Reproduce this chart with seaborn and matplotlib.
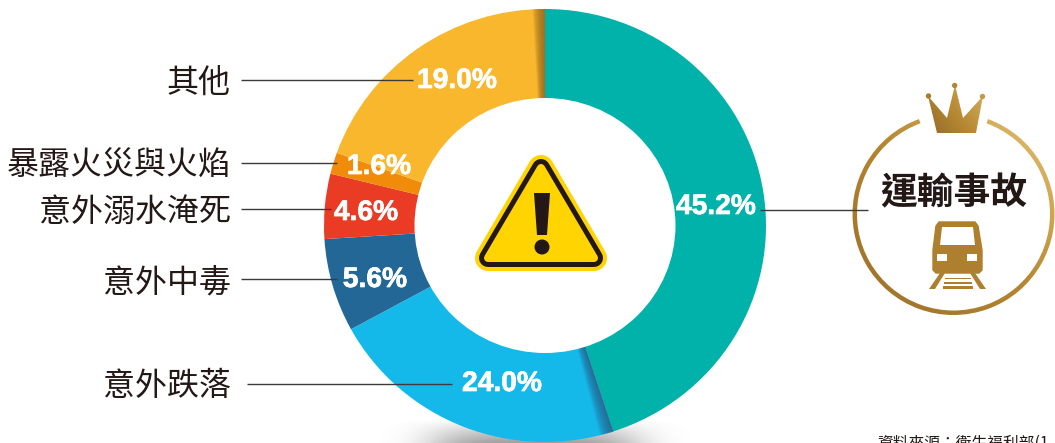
import numpy as np
import matplotlib
matplotlib.use("Agg")
import matplotlib.pyplot as plt
import matplotlib.patheffects as pe
import seaborn as sns
from matplotlib.patches import Wedge, Polygon, Circle, Rectangle, Ellipse
from matplotlib.colors import LinearSegmentedColormap

categories = ["運輸事故", "意外跌落", "意外中毒", "意外溺水淹死", "暴露火災與火焰", "其他"]
value_labels = ["45.2%", "24.0%", "5.6%", "4.6%", "1.6%", "19.0%"]
# slice sizes as they are drawn in the picture (they differ a little from the printed numbers)
drawn_shares = [45.0, 22.05, 6.95, 4.85, 1.6, 19.55]
slice_colors = ["#00B2A9", "#14B9EA", "#226795", "#EA3C24", "#F08C0A", "#F9B72E"]
source_text = "資料來源：衛生福利部(1"

sns.set_theme(style="white")
CJK = ["Noto Sans CJK TC", "DejaVu Sans"]
plt.rcParams["font.family"] = CJK

W, H = 1055, 443
fig = plt.figure(figsize=(W / 100, H / 100), dpi=100, facecolor="white")
ax = fig.add_axes([0, 0, 1, 1], zorder=1)


def Y(py):
    return H - py


def P(pts):
    return [(x, Y(y)) for x, y in pts]


# soft shadow under the ring
xs = np.linspace(360, 720, 360)
ys = np.linspace(420, 443, 40)
gx, gy = np.meshgrid(xs, ys)
alpha = 0.62 * np.exp(-(np.abs(gx - 535) / 105) ** 4) * np.clip((gy - 420) / 23, 0, 1) ** 0.8
shadow = np.zeros(alpha.shape + (4,))
shadow[..., :3] = 0.40
shadow[..., 3] = alpha
ax.imshow(shadow, extent=(360, 720, Y(443), Y(420)), origin="upper", zorder=0, aspect="auto")

# the doughnut: its own axes, slightly squashed as in the picture
L, T, RGT, B = 324, 9, 766, 442
ax_pie = fig.add_axes([L / W, 1 - B / H, (RGT - L) / W, (B - T) / H], zorder=2)
ax_pie.patch.set_alpha(0)
ax_pie.pie(drawn_shares, colors=slice_colors, startangle=90, counterclock=False,
           radius=1, frame=False, wedgeprops=dict(linewidth=0, zorder=2))

cum = np.cumsum(drawn_shares)
seam_blue = 90 - cum[0] * 3.6
for i in range(14):
    ax_pie.add_patch(Wedge((0, 0), 1, seam_blue - 3.6 * (i + 1) / 14, seam_blue,
                           fc="#2A5F88", ec="none", alpha=0.10, zorder=3))
for i in range(14):
    ax_pie.add_patch(Wedge((0, 0), 1, 90, 90 + 3.2 * (i + 1) / 14,
                           fc="#94681F", ec="none", alpha=0.12, zorder=3))
# hole
ax_pie.add_patch(Ellipse((0, 0), 2 * 130.5 / 221, 2 * 127.5 / 216.5, fc="white", ec="none", zorder=4))
ax_pie.set_aspect("auto")
ax_pie.set_xlim(-1, 1)
ax_pie.set_ylim(-1, 1)
ax_pie.axis("off")

# overlay in picture pixels
ov = fig.add_axes([0, 0, 1, 1], zorder=3)
ov.patch.set_alpha(0)

label_pos = [(716, 207), (502, 384), (375, 280), (366, 213), (379, 167), (457, 81)]
for (x, y), s in zip(label_pos, value_labels):
    ov.text(x, Y(y), s, color="white", fontsize=20.3, fontweight="bold", family="Liberation Sans",
            ha="center", va="center", zorder=6,
            path_effects=[pe.withStroke(linewidth=0.5, foreground="white")])

name_y = {"意外跌落": 386, "意外中毒": 282, "意外溺水淹死": 212, "暴露火災與火焰": 166, "其他": 83}
for name, y in name_y.items():
    ov.text(231, Y(y), name, color="#231815", fontsize=23, ha="right", va="center", zorder=6)

leaders = [(241, 413, 80), (241, 337, 163), (241, 331, 209), (241, 337, 278.5), (247, 452, 384), (760, 868, 210)]
for x0, x1, y in leaders:
    ov.plot([x0, x1], [Y(y), Y(y)], color="#3E3A39", lw=1.0, zorder=5, solid_capstyle="butt")

# warning sign
tri = P([(541, 168), (488, 258), (594, 258)])
for half, col in [(13, "#FFD400"), (9, "#231815"), (4, "#FFD400")]:
    ov.add_patch(Polygon(tri, closed=True, fc=col, ec=col, lw=2 * half * 0.72, joinstyle="round", zorder=4))
ov.add_patch(Polygon(P([(534, 193), (550, 193), (547, 235), (537, 235)]), closed=True, fc="#231815", ec="none", zorder=5))
ov.add_patch(Circle((542, Y(247)), 7.5, fc="#231815", ec="none", zorder=5))

# gold badge
gold = LinearSegmentedColormap.from_list("gold", ["#9A6F2A", "#B5862F", "#E9C878"])
RX, RY, RR = 953.5, 214, 101
grad = np.array([[(i + j) / 2 for i in np.linspace(0, 1, 200)] for j in np.linspace(0, 1, 200)])
ring_img = ov.imshow(grad, cmap=gold, extent=(RX - RR - 3, RX + RR + 3, Y(RY + RR + 3), Y(RY - RR - 3)),
                     origin="lower", zorder=4, aspect="auto")
ring = Wedge((RX, Y(RY)), RR, 110, 430, width=4.5, fc="none", ec="none")
ov.add_patch(ring)
ring_img.set_clip_path(ring)

crown_grad = np.array([[(i * 0.6 + j * 0.4) for i in np.linspace(0, 1, 60)] for j in np.linspace(0, 1, 60)])
crown_cmap = LinearSegmentedColormap.from_list("crown", ["#8F6826", "#B98B35", "#D9B565"])
crown_img = ov.imshow(crown_grad, cmap=crown_cmap, extent=(925, 986, Y(135), Y(83)), origin="lower", zorder=4, aspect="auto")
crown = Polygon(P([(937, 133), (928, 96), (947, 118), (955, 85), (963, 118), (983, 96), (976, 133)]),
                closed=True, fc="none", ec="none")
ov.add_patch(crown)
crown_img.set_clip_path(crown)
for x, y, c in [(928.5, 96, "#A87B2D"), (954.7, 85.5, "#B28635"), (982.5, 96.5, "#C49A48")]:
    ov.add_patch(Circle((x, Y(y)), 2.7, fc=c, ec="none", zorder=5))

ov.text(954, Y(194), categories[0], color="#231815", fontsize=26.5, fontweight="bold",
        ha="center", va="center", zorder=6)

# train icon
TRAIN = "#AE7F2E"
ov.add_patch(Polygon(P([(939, 222), (975, 222), (978, 226), (982, 250), (982, 270), (979, 273),
                        (936, 273), (933, 270), (933, 250), (936, 226)]), closed=True, fc=TRAIN, ec=TRAIN,
                     lw=1, joinstyle="round", zorder=4))
ov.add_patch(Polygon(P([(942, 227), (973, 227), (975, 245), (940, 245)]), closed=True, fc="white", ec="none", zorder=5))
for x0 in (937, 967):
    ov.add_patch(Rectangle((x0, Y(261)), 10, 7, fc="white", ec="none", zorder=5))
ov.add_patch(Polygon(P([(940, 273), (945, 273), (935, 289), (929, 289)]), closed=True, fc=TRAIN, ec="none", zorder=4))
ov.add_patch(Polygon(P([(970, 273), (975, 273), (986, 289), (980, 289)]), closed=True, fc=TRAIN, ec="none", zorder=4))
for y0, h, xa, xb in [(278, 1, 945, 971), (282, 2, 944, 972), (286, 3, 943, 973)]:
    ov.add_patch(Rectangle((xa, Y(y0 + h)), xb - xa, h, fc=TRAIN, ec="none", zorder=4))

ov.text(877, Y(435), source_text, color="#231815", fontsize=11.3, ha="left", va="top", zorder=6)

for a in (ax, ov):
    a.set_xlim(0, W)
    a.set_ylim(0, H)
    a.set_aspect("auto")
    a.axis("off")
fig.savefig("out.png", dpi=100, facecolor="white")
